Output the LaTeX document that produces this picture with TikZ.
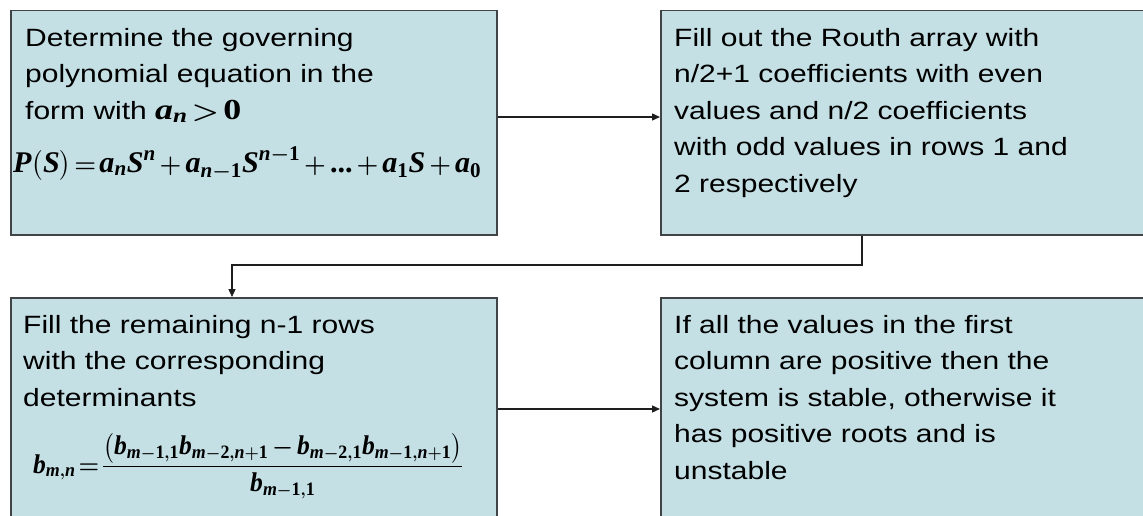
\documentclass[tikz,border=0pt]{standalone}
\usepackage[no-math]{fontspec}
\setmainfont[FakeStretch=1.2]{Liberation Sans}
\newfontfamily\tbi{Liberation Serif}
\usepackage{amsmath,graphicx}
\usetikzlibrary{arrows.meta,calc}
\definecolor{boxfill}{RGB}{196,224,229}
\definecolor{boxline}{RGB}{64,68,70}
\definecolor{wire}{RGB}{30,30,30}
\newcommand{\fl}{\rule{0pt}{20pt}}
\newcommand{\tightmath}{\medmuskip=2.5mu\thickmuskip=2mu}
\newcommand{\tv}[1]{\text{\tbi\bfseries\itshape #1}}
\newcommand{\tn}[1]{\text{\tbi\bfseries #1}}
\begin{document}
\begin{tikzpicture}[x=1pt,y=1pt,
  box/.style={draw=boxline,line width=1.5pt,fill=boxfill,inner sep=0pt,anchor=north west},
  txt/.style={anchor=north west,inner sep=0pt,align=left,font=\fontsize{25}{36.5}\selectfont},
  frm/.style={anchor=base west,inner sep=0pt},
  wirestyle/.style={draw=wire,line width=1.3pt,-{Triangle[length=8pt,width=7pt]}}]
\useasboundingbox (0,0) rectangle (1143,-516);
\fill[white] (0,0) rectangle (1143,-516);
\clip (0,0) rectangle (1143,-516);
% boxes
\node[box,minimum width=486,minimum height=224] (b1) at (10,-10) {};
\node[box,minimum width=500,minimum height=224] (b2) at (660,-10) {};
\node[box,minimum width=486,minimum height=240] (b3) at (10,-297) {};
\node[box,minimum width=500,minimum height=240] (b4) at (660,-297) {};
% texts
\node[txt] (t1) at (25,-26) {\fl Determine the governing\\polynomial equation in the\\form with \resizebox{86pt}{\height}{\fontsize{29}{29}\selectfont\boldmath\tightmath$\tv{a}_{\tv{n}}>\tn{0}$}};
\node[frm] (f1) at (13,-172) {\resizebox{468pt}{\height}{\fontsize{30}{30}\selectfont\boldmath\tightmath$\tv{P}\bigl(\tv{S}\bigr)=\tv{a}_{\tv{n}}\tv{S}^{\tv{n}}+\tv{a}_{\tv{n}-\tn{1}}\tv{S}^{\tv{n}-\tn{1}}+\tn{...}+\tv{a}_{\tn{1}}\tv{S}+\tv{a}_{\tn{0}}$}};
\node[txt] (t2) at (674,-26) {\fl Fill out the Routh array with\\n/2+1 coefficients with even\\values and n/2 coefficients\\with odd values in rows 1 and\\2 respectively};
\node[txt] (t3) at (23,-313) {\fl Fill the remaining n-1 rows\\with the corresponding\\determinants};
\node[frm] (f2) at (33,-473) {\resizebox{430pt}{\height}{\fontsize{27}{27}\selectfont\boldmath\tightmath$\tv{b}_{\tv{m},\tv{n}}=\dfrac{\bigl(\tv{b}_{\tv{m}-\tn{1},\tn{1}}\tv{b}_{\tv{m}-\tn{2},\tv{n}+\tn{1}}-\tv{b}_{\tv{m}-\tn{2},\tn{1}}\tv{b}_{\tv{m}-\tn{1},\tv{n}+\tn{1}}\bigr)}{\tv{b}_{\tv{m}-\tn{1},\tn{1}}}$}};
\node[txt] (t4) at (674,-313) {\fl If all the values in the first\\column are positive then the\\system is stable, otherwise it\\has positive roots and is\\unstable};
% connectors
\coordinate (c1) at (862,-265);
\coordinate (c2) at (232,-265);
\draw[wirestyle] (b1.east |- 0,-117) -- (b2.west |- 0,-117);
\draw[wirestyle] (b2.south -| c1) -- (c1) -- (c2) -- (b3.north -| c2);
\draw[wirestyle] (b3.east |- 0,-409) -- (b4.west |- 0,-409);
\end{tikzpicture}
\end{document}
